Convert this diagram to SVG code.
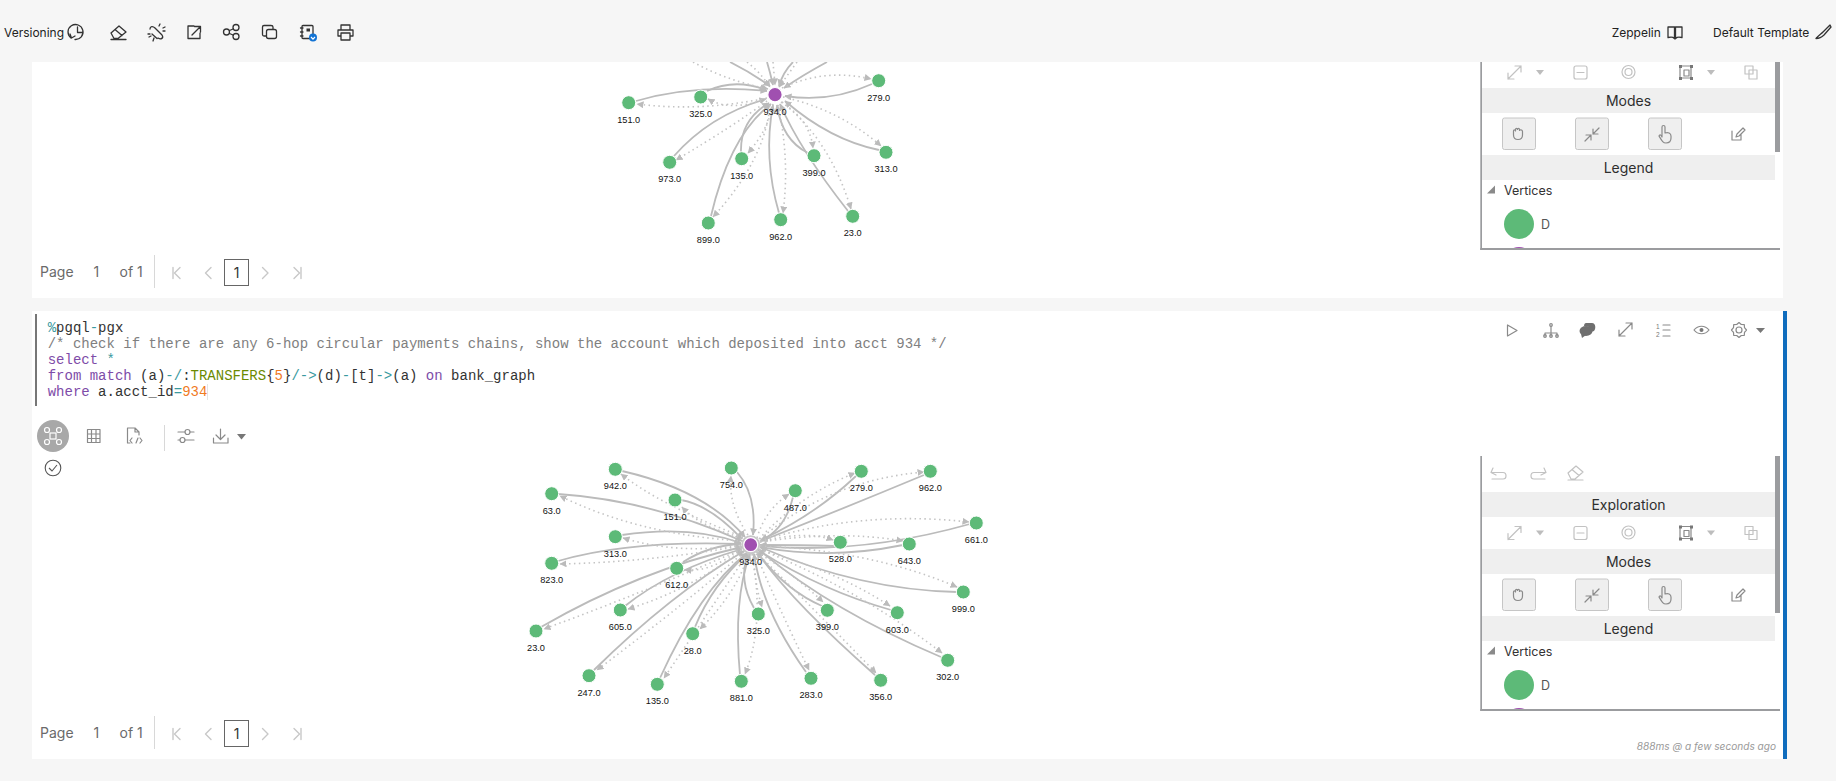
<svg xmlns="http://www.w3.org/2000/svg" width="1836" height="781" viewBox="0 0 1836 781">
<style>
.ui{font-family:Inter,"Liberation Sans",sans-serif}
.tb{font-size:12px;fill:#222}
.pg{font-size:14px;fill:#6a6a6a}
.band{font-size:14px;fill:#2e2e2e;text-anchor:middle}
.lab{font-family:"Liberation Sans",Arial,sans-serif;font-size:9.2px;fill:#111;text-anchor:middle}
.code{font-family:"Liberation Mono","Courier New",monospace;font-size:14px;fill:#333;white-space:pre}
.s{fill:none;stroke:#bbb;stroke-width:1.8;marker-end:url(#ah)}
.d{fill:none;stroke:#c4c4c4;stroke-width:1.6;stroke-dasharray:1.5 3.4;marker-end:url(#ah)}
.v{fill:#5dba78;stroke:#fff;stroke-width:1}
.c{fill:#a050b0;stroke:#fff;stroke-width:1.2}
.i{fill:none;stroke:#333;stroke-width:1.3;stroke-linecap:round;stroke-linejoin:round}
.g{fill:none;stroke:#8a8a8a;stroke-width:1.2;stroke-linecap:round;stroke-linejoin:round}
.l{fill:none;stroke:#c2c2c2;stroke-width:1.2;stroke-linecap:round;stroke-linejoin:round}
.p{fill:none;stroke:#c8c8c8;stroke-width:1.4;stroke-linecap:round;stroke-linejoin:round}
.bar{fill:#9b9c9f}
.bd{fill:#efefef}
.btn{fill:#efefef;stroke:#c6c6c6;stroke-width:1}
</style>
<defs>
<marker id="ah" markerUnits="userSpaceOnUse" markerWidth="9" markerHeight="9" refX="6.5" refY="3.5" orient="auto"><path d="M0 0L7 3.500L0 7Z" fill="#bbb"/></marker>
<clipPath id="topclip"><rect x="32" y="62" width="1440" height="236"/></clipPath>
<clipPath id="leg1"><rect x="1482" y="180" width="293" height="68"/></clipPath>
<clipPath id="leg2"><rect x="1482" y="641" width="293" height="68"/></clipPath>
<g id="explore-icons">
<path class="l" d="M1508 79L1521 66M1515 66H1521V72M1508 73V79H1514"/>
<path d="M1536 70H1544L1540 75Z" fill="#bdbdbd"/>
<rect class="l" x="1574" y="66" width="13" height="13" rx="2"/><path class="l" d="M1577 72.500H1584"/>
<circle class="l" cx="1628.500" cy="72" r="6.500"/><circle class="l" cx="1628.500" cy="72" r="3.500"/>
<rect class="g" x="1680" y="66" width="11" height="12"/><rect class="g" x="1684" y="70" width="5" height="6"/><path d="M1679 65l3 0 0 3-3 0zM1690 65l3 0 0 3-3 0zM1679 77l3 0 0 3-3 0zM1690 77l3 0 0 3-3 0z" fill="#777"/>
<path d="M1707 70H1715L1711 75Z" fill="#bdbdbd"/>
<path class="l" d="M1745 66V74H1753V66H1745M1749 70V79H1757V70H1749"/>
</g>
<g id="mode-buttons">
<rect class="btn" x="1502.500" y="118" width="33" height="31.500" rx="2"/>
<rect class="btn" x="1575.500" y="118" width="33" height="31.500" rx="2"/>
<rect class="btn" x="1648.500" y="118" width="33" height="31.500" rx="2"/>
<path class="g" d="M1513.500 135V131C1513.500 129.500 1515.500 129.500 1515.500 131V129.500C1515.500 128 1517.500 128 1517.500 129.500C1517.500 128 1519.500 128 1519.500 129.500V130.500C1519.500 129.500 1522.500 129.500 1522.500 131.500V135C1522.500 138 1521 139.500 1518 139.500C1515 139.500 1513.500 138 1513.500 135Z"/>
<path class="g" d="M1585 141L1591 135M1586 135H1591V140M1599 128L1593 134M1593 129V134H1598"/>
<path class="g" d="M1662 127C1662 125 1665 125 1665 127V133C1668 132 1671 133 1671 136V138C1671 141 1669 143 1666 143C1663 143 1662 141 1659 136C1660 134 1661 135 1662 137Z"/>
<path class="g" d="M1732 131V140H1741V134M1736 137L1737 134L1743 128L1745 130L1739 136Z"/>
</g>
<g id="pager-icons">
<path class="p" d="M173 267.500V278.500M180 267.500L174.500 273L180 278.500"/>
<path class="p" d="M211 267.500L205.500 273L211 278.500"/>
<path class="p" d="M262.500 267.500L268 273L262.500 278.500"/>
<path class="p" d="M294 267.500L299.500 273L294 278.500M301 267.500V278.500"/>
</g>
</defs>

<rect width="1836" height="781" fill="#f6f6f6"/>
<rect x="32" y="62" width="1751" height="236" fill="#fff"/>
<rect x="32" y="311" width="1751" height="448" fill="#fff"/>
<rect x="1783" y="311" width="4" height="448" fill="#0f6cbd"/>

<g id="connectors-top" clip-path="url(#topclip)">
<path class="s" d="M636 101Q695 84 767 91"/>
<path class="s" d="M707 91Q735 78 766 90"/>
<path class="s" d="M674 156Q710 115 766 99"/>
<path class="s" d="M741 152Q740 120 769 103"/>
<path class="s" d="M711 216Q730 135 771 104"/>
<path class="s" d="M779 213Q763 158 773 105"/>
<path class="s" d="M808 153Q782 140 777 105"/>
<path class="s" d="M848 211Q800 150 780 104"/>
<path class="s" d="M879 150Q830 140 785 101"/>
<path class="s" d="M872 84Q830 103 785 96"/>
<path class="s" d="M730 62Q750 72 770 86"/>
<path class="s" d="M767 62Q770 72 773 85"/>
<path class="s" d="M793 62Q783 72 779 86"/>
<path class="s" d="M827 62Q803 75 784 88"/>
<path class="d" d="M782 88Q825 68 871 79"/>
<path class="d" d="M767 98Q700 112 637 104"/>
<path class="d" d="M766 99Q730 112 708 99"/>
<path class="d" d="M767 101Q735 125 676 160"/>
<path class="d" d="M773 104Q768 130 748 153"/>
<path class="d" d="M770 105Q765 160 713 217"/>
<path class="d" d="M778 105Q790 160 783 213"/>
<path class="d" d="M781 102Q810 120 813 148"/>
<path class="d" d="M782 102Q830 140 851 209"/>
<path class="d" d="M783 97Q840 110 881 146"/>
<path class="d" d="M693 62Q725 80 768 89"/>
<path class="d" d="M747 62Q760 72 770 87"/>
<path class="d" d="M773 62L775 85"/>
<path class="d" d="M797 62L779 87"/>
</g>

<g id="node-t-151"><circle class="v" cx="628.700" cy="102.700" r="7"/><text class="lab" x="628.700" y="123">151.0</text></g>
<g id="node-t-325"><circle class="v" cx="700.700" cy="97" r="7"/><text class="lab" x="700.700" y="117">325.0</text></g>
<g id="node-t-279"><circle class="v" cx="878.700" cy="80.700" r="7"/><text class="lab" x="878.700" y="101">279.0</text></g>
<g id="node-t-973"><circle class="v" cx="669.700" cy="162.300" r="7"/><text class="lab" x="669.700" y="182.300">973.0</text></g>
<g id="node-t-135"><circle class="v" cx="741.700" cy="158.700" r="7"/><text class="lab" x="741.700" y="178.700">135.0</text></g>
<g id="node-t-399"><circle class="v" cx="814" cy="155.700" r="7"/><text class="lab" x="814" y="175.700">399.0</text></g>
<g id="node-t-313"><circle class="v" cx="886" cy="152.300" r="7"/><text class="lab" x="886" y="172.300">313.0</text></g>
<g id="node-t-899"><circle class="v" cx="708.300" cy="223" r="7"/><text class="lab" x="708.300" y="243">899.0</text></g>
<g id="node-t-962"><circle class="v" cx="780.700" cy="219.700" r="7"/><text class="lab" x="780.700" y="239.700">962.0</text></g>
<g id="node-t-23"><circle class="v" cx="852.700" cy="216.300" r="7"/><text class="lab" x="852.700" y="236.300">23.0</text></g>
<g id="node-t-934"><circle class="c" cx="775" cy="94.700" r="7.200"/><text class="lab" x="775" y="114.700">934.0</text></g>

<g id="connectors-bottom">
<path class="s" d="M622 471Q705 490 745 537"/>
<path class="s" d="M737 472Q757 495 753 535"/>
<path class="s" d="M558 494Q650 500 742 541"/>
<path class="s" d="M681 500Q710 505 742 539"/>
<path class="s" d="M622 535Q690 525 741 543"/>
<path class="s" d="M558 561Q630 540 741 544"/>
<path class="s" d="M683 562Q710 545 741 544"/>
<path class="s" d="M541 627Q640 570 742 547"/>
<path class="s" d="M625 606Q670 570 742 549"/>
<path class="s" d="M594 670Q670 595 744 551"/>
<path class="s" d="M660 678Q700 590 747 553"/>
<path class="s" d="M695 627Q712 585 748 553"/>
<path class="s" d="M740 675Q733 600 750 554"/>
<path class="s" d="M754 608Q738 580 748 554"/>
<path class="s" d="M806 672Q762 610 754 554"/>
<path class="s" d="M875 675Q790 600 757 552"/>
<path class="s" d="M822 606Q785 590 757 552"/>
<path class="s" d="M891 610Q820 590 758 550"/>
<path class="s" d="M941 657Q830 610 758 549"/>
<path class="s" d="M957 592Q860 590 760 547"/>
<path class="s" d="M970 524Q860 555 760 546"/>
<path class="s" d="M903 545Q830 560 760 547"/>
<path class="s" d="M834 546Q800 545 760 545"/>
<path class="s" d="M793 497Q785 530 760 541"/>
<path class="s" d="M856 476Q815 515 761 540"/>
<path class="s" d="M924 475Q840 510 761 541"/>
<path class="d" d="M743 537Q660 505 621 474"/>
<path class="d" d="M748 535Q728 505 731 476"/>
<path class="d" d="M743 541Q640 535 560 496"/>
<path class="d" d="M743 538Q700 527 682 507"/>
<path class="d" d="M741 545Q680 555 623 538"/>
<path class="d" d="M741 546Q650 562 560 564"/>
<path class="d" d="M741 547Q715 572 685 570"/>
<path class="d" d="M742 550Q690 590 628 609"/>
<path class="d" d="M742 549Q650 590 544 629"/>
<path class="d" d="M744 552Q690 600 597 670"/>
<path class="d" d="M748 553Q710 610 664 678"/>
<path class="d" d="M749 554Q735 595 700 629"/>
<path class="d" d="M752 554Q765 625 745 674"/>
<path class="d" d="M753 554Q755 585 762 607"/>
<path class="d" d="M756 554Q775 600 809 670"/>
<path class="d" d="M757 553Q815 610 876 673"/>
<path class="d" d="M757 552Q795 575 823 602"/>
<path class="d" d="M759 550Q835 570 890 606"/>
<path class="d" d="M759 549Q860 590 942 653"/>
<path class="d" d="M760 546Q870 550 957 587"/>
<path class="d" d="M760 541Q860 510 969 522"/>
<path class="d" d="M760 542Q840 530 903 541"/>
<path class="d" d="M760 542Q805 530 833 540"/>
<path class="d" d="M760 539Q830 480 924 472"/>
<path class="d" d="M759 539Q800 495 855 473"/>
<path class="d" d="M757 538Q765 510 789 494"/>
</g>

<g id="node-942"><circle class="v" cx="615.300" cy="469.300" r="7"/><text class="lab" x="615.300" y="489.300">942.0</text></g>
<g id="node-754"><circle class="v" cx="731.300" cy="468" r="7"/><text class="lab" x="731.300" y="488">754.0</text></g>
<g id="node-63"><circle class="v" cx="551.700" cy="493.700" r="7"/><text class="lab" x="551.700" y="513.700">63.0</text></g>
<g id="node-151"><circle class="v" cx="675" cy="500" r="7"/><text class="lab" x="675" y="520">151.0</text></g>
<g id="node-313"><circle class="v" cx="615.300" cy="536.700" r="7"/><text class="lab" x="615.300" y="556.700">313.0</text></g>
<g id="node-823"><circle class="v" cx="551.700" cy="563.300" r="7"/><text class="lab" x="551.700" y="583.300">823.0</text></g>
<g id="node-612"><circle class="v" cx="676.700" cy="568.300" r="7"/><text class="lab" x="676.700" y="588.300">612.0</text></g>
<g id="node-487"><circle class="v" cx="795.300" cy="490.700" r="7"/><text class="lab" x="795.300" y="510.700">487.0</text></g>
<g id="node-279"><circle class="v" cx="861.300" cy="471.300" r="7"/><text class="lab" x="861.300" y="491.300">279.0</text></g>
<g id="node-962"><circle class="v" cx="930.300" cy="471.300" r="7"/><text class="lab" x="930.300" y="491.300">962.0</text></g>
<g id="node-661"><circle class="v" cx="976.300" cy="523" r="7"/><text class="lab" x="976.300" y="543">661.0</text></g>
<g id="node-528"><circle class="v" cx="840.300" cy="542.300" r="7"/><text class="lab" x="840.300" y="562.300">528.0</text></g>
<g id="node-643"><circle class="v" cx="909.300" cy="544" r="7"/><text class="lab" x="909.300" y="564">643.0</text></g>
<g id="node-999"><circle class="v" cx="963.300" cy="592" r="7"/><text class="lab" x="963.300" y="612">999.0</text></g>
<g id="node-605"><circle class="v" cx="620.300" cy="610" r="7"/><text class="lab" x="620.300" y="630">605.0</text></g>
<g id="node-23"><circle class="v" cx="536" cy="631" r="7"/><text class="lab" x="536" y="651">23.0</text></g>
<g id="node-28"><circle class="v" cx="692.700" cy="633.700" r="7"/><text class="lab" x="692.700" y="653.700">28.0</text></g>
<g id="node-325"><circle class="v" cx="758.300" cy="614" r="7"/><text class="lab" x="758.300" y="634">325.0</text></g>
<g id="node-247"><circle class="v" cx="589" cy="675.700" r="7"/><text class="lab" x="589" y="695.700">247.0</text></g>
<g id="node-135"><circle class="v" cx="657.300" cy="684.300" r="7"/><text class="lab" x="657.300" y="704.300">135.0</text></g>
<g id="node-881"><circle class="v" cx="741.300" cy="681.300" r="7"/><text class="lab" x="741.300" y="701.300">881.0</text></g>
<g id="node-399"><circle class="v" cx="827.300" cy="610.300" r="7"/><text class="lab" x="827.300" y="630.300">399.0</text></g>
<g id="node-603"><circle class="v" cx="897.300" cy="612.700" r="7"/><text class="lab" x="897.300" y="632.700">603.0</text></g>
<g id="node-283"><circle class="v" cx="811" cy="678.300" r="7"/><text class="lab" x="811" y="698.300">283.0</text></g>
<g id="node-356"><circle class="v" cx="880.700" cy="680.300" r="7"/><text class="lab" x="880.700" y="700.300">356.0</text></g>
<g id="node-302"><circle class="v" cx="947.700" cy="660.300" r="7"/><text class="lab" x="947.700" y="680.300">302.0</text></g>
<g id="node-934"><circle cx="750.700" cy="544.700" r="9.500" fill="#c8c8c8"/><circle class="c" cx="750.700" cy="544.700" r="7"/><text class="lab" x="750.700" y="564.700">934.0</text></g>

<g id="toolbar" class="ui">
<text class="tb" x="4" y="37">Versioning</text>
<path class="i" d="M71 38A7.500 7.500 0 1 1 75 39.500M70 34L71.500 38L75 36M77.500 27V32.500H82"/>
<path class="i" d="M111 33L119 26L126 32L118 38.500H114ZM115 29.500L122 35.500M111 39.500H126"/>
<path class="i" d="M150 29C150 26 153 26 155 28L162 35C164 38 161 40 158 38M152 34L157 38.500M159 26L160 24M163 28L165 27M165 31H163M149 37L151 36M154 38L153 41M148 34L150 34"/>
<path class="i" d="M194 26H188V38.500H200V33M192 35L200 27M194.500 26.500H200.500V32" stroke-width="1.500"/>
<circle class="i" cx="226.500" cy="32" r="3"/><circle class="i" cx="236" cy="27.500" r="3"/><circle class="i" cx="236" cy="36.500" r="3"/><path class="i" d="M229.500 30.500L233 29M229.500 33.500L233 35"/>
<rect class="i" x="266.500" y="29.500" width="10" height="9" rx="2"/><path class="i" d="M266 36H264C263 36 262.500 35.500 262.500 34.500V27C262.500 26 263 25.500 264 25.500H271C272 25.500 273 26 273 27V29"/>
<rect class="i" x="302" y="25.500" width="11" height="13" rx="1" stroke-width="1.600"/><rect x="306.500" y="28.500" width="3.500" height="3" fill="#333"/><path class="i" d="M300.500 28H303M300.500 32H303M300.500 36H303"/><circle cx="313" cy="37.500" r="4" fill="#1273d4"/><path d="M311 37L313 39.200L315 37" fill="none" stroke="#fff" stroke-width="1.200"/>
<path class="i" d="M341 30V25H350V30M341 36H338V30H353V36H350M341 33H350V40H341Z" stroke-width="1.500"/>
<text class="tb" x="1611.700" y="37">Zeppelin</text>
<path class="i" d="M1668 27H1674.500V38C1673 37 1670 37 1668 37.500ZM1682 27H1675.500V38C1677 37 1680 37 1682 37.500ZM1673 37.500L1675 39L1677 37.500"/>
<text class="tb" x="1713" y="37">Default Template</text>
<path class="i" d="M1830 25L1823 32C1821 34 1819 35 1816 38.500C1819 38.500 1822 37 1824 35L1831 27Z"/>
</g>

<g id="pager-top" class="ui">
<text class="pg" x="40" y="277">Page</text><text class="pg" x="93.500" y="277">1</text><text class="pg" x="119.500" y="277">of 1</text>
<rect x="154" y="255" width="1" height="33" fill="#d8d8d8"/>
<use href="#pager-icons"/>
<rect x="224.500" y="259.500" width="24" height="26" fill="#fff" stroke="#666" stroke-width="1"/>
<text x="236.500" y="278" font-size="14px" fill="#333" text-anchor="middle">1</text>
</g>

<g id="pager-bottom" class="ui">
<text class="pg" x="40" y="738">Page</text><text class="pg" x="93.500" y="738">1</text><text class="pg" x="119.500" y="738">of 1</text>
<rect x="154" y="716" width="1" height="33" fill="#d8d8d8"/>
<use href="#pager-icons" y="461"/>
<rect x="224.500" y="720.500" width="24" height="26" fill="#fff" stroke="#666" stroke-width="1"/>
<text x="236.500" y="739" font-size="14px" fill="#333" text-anchor="middle">1</text>
</g>

<g id="panel-top" class="ui">
<rect class="bar" x="1480.300" y="62" width="1.700" height="188"/>
<rect class="bar" x="1480.300" y="248" width="299.700" height="2"/>
<rect class="bar" x="1775" y="62" width="5" height="90"/>
<use href="#explore-icons"/>
<rect class="bd" x="1482" y="88" width="293" height="25"/><text class="band" x="1628.500" y="106">Modes</text>
<use href="#mode-buttons"/>
<rect class="bd" x="1482" y="155" width="293" height="25"/><text class="band" x="1628.500" y="173">Legend</text>
<path d="M1487 193.500L1495 185.500V193.500Z" fill="#8a8a8a"/>
<text x="1504" y="195" font-size="12.500px" fill="#333">Vertices</text>
<circle cx="1519" cy="224" r="15" fill="#5dba78"/>
<text x="1541" y="229" font-size="12.500px" fill="#555">D</text>
<circle cx="1519" cy="262" r="15" fill="#a050b0" clip-path="url(#leg1)"/>
</g>

<g id="panel-bottom" class="ui">
<rect class="bar" x="1480.300" y="456" width="1.700" height="255"/>
<rect class="bar" x="1480.300" y="709" width="299.700" height="2"/>
<rect class="bar" x="1775" y="456" width="5" height="157"/>
<path class="l" d="M1493 468L1491 472.500L1496 475M1491.500 472.500H1503C1507 472.500 1507 479 1503 479H1492"/>
<path class="l" d="M1544 468L1546 472.500L1541 475M1545.500 472.500H1534C1530 472.500 1530 479 1534 479H1545"/>
<path class="l" d="M1568 473L1576 466L1583 472L1575 479H1571ZM1572 469.500L1579 475.500M1568 480H1583"/>
<rect class="bd" x="1482" y="492" width="293" height="25"/><text class="band" x="1628.500" y="510">Exploration</text>
<use href="#explore-icons" y="460.500"/>
<rect class="bd" x="1482" y="549" width="293" height="25"/><text class="band" x="1628.500" y="567">Modes</text>
<use href="#mode-buttons" y="461"/>
<rect class="bd" x="1482" y="616" width="293" height="25"/><text class="band" x="1628.500" y="634">Legend</text>
<path d="M1487 654.500L1495 646.500V654.500Z" fill="#8a8a8a"/>
<text x="1504" y="656" font-size="12.500px" fill="#333">Vertices</text>
<circle cx="1519" cy="685" r="15" fill="#5dba78"/>
<text x="1541" y="690" font-size="12.500px" fill="#555">D</text>
<circle cx="1519" cy="723" r="15" fill="#a050b0" clip-path="url(#leg2)"/>
<text x="1776" y="750" font-size="10.100px" font-style="italic" fill="#999" text-anchor="end">888ms @ a few seconds ago</text>
</g>

<g id="cell-actions">
<path class="g" d="M1507.500 325V336L1517 330.500Z"/>
<path class="g" d="M1551 326V333M1545 336V333H1557V336M1551 333V336"/><circle class="g" cx="1551" cy="325" r="1.300"/><circle class="g" cx="1545" cy="336" r="1.300"/><circle class="g" cx="1551" cy="336" r="1.300"/><circle class="g" cx="1557" cy="336" r="1.300"/>
<path d="M1586 323H1592C1596 323 1596 329 1594 331L1591 332C1591 328 1589 326 1584 326C1584 324 1585 323 1586 323Z" fill="#6f6f6f"/><ellipse cx="1586" cy="331" rx="6.500" ry="5" fill="#6f6f6f"/><path d="M1581 334L1582 338L1586 335Z" fill="#6f6f6f"/>
<path class="g" d="M1619 336L1632 323M1626 323H1632V329M1619 330V336H1625"/>
<path class="g" d="M1663 325H1670M1663 330H1670M1663 336H1670"/>
<text x="1656" y="329" font-size="6.500" fill="#777" font-family="Liberation Sans,sans-serif">1</text><text x="1656" y="337" font-size="6.500" fill="#777" font-family="Liberation Sans,sans-serif">2</text>
<path class="g" d="M1694 330C1698 325 1705 325 1709 330C1705 335 1698 335 1694 330Z"/><circle cx="1701.500" cy="330" r="2" fill="#777"/>
<circle class="g" cx="1739" cy="330" r="3"/>
<path class="g" d="M1746.500 330L1744.500 332.300L1744.300 335.300L1741.300 335.500L1739 337.500L1736.700 335.500L1733.700 335.300L1733.500 332.300L1731.500 330L1733.500 327.700L1733.700 324.700L1736.700 324.500L1739 322.500L1741.300 324.500L1744.300 324.700L1744.500 327.700Z"/>
<path d="M1756 328H1765L1760.500 333Z" fill="#777"/>
</g>

<g id="code">
<rect x="35" y="314" width="2" height="92" fill="#777"/>
<rect x="207" y="384" width="1" height="16" fill="#e4e4e4"/>
<text class="code" x="47.700" y="332.300"><tspan fill="#3a9aa0">%</tspan>pgql<tspan fill="#3a9aa0">-</tspan>pgx</text>
<text class="code" x="47.700" y="348.300" style="fill:#808080">/* check if there are any 6-hop circular payments chains, show the account which deposited into acct 934 */</text>
<text class="code" x="47.700" y="364.300"><tspan fill="#7e4ca8">select</tspan> <tspan fill="#3a9aa0">*</tspan></text>
<text class="code" x="47.700" y="380.300"><tspan fill="#7e4ca8">from match</tspan> (a)<tspan fill="#3a9aa0">-/</tspan>:<tspan fill="#6b8a00">TRANSFERS</tspan>{<tspan fill="#f07b1f">5</tspan>}<tspan fill="#3a9aa0">/-&gt;</tspan>(d)<tspan fill="#3a9aa0">-</tspan>[t]<tspan fill="#3a9aa0">-&gt;</tspan>(a) <tspan fill="#7e4ca8">on</tspan> bank_graph</text>
<text class="code" x="47.700" y="396.300"><tspan fill="#7e4ca8">where</tspan> a.acct_id<tspan fill="#3a9aa0">=</tspan><tspan fill="#f07b1f">934</tspan></text>
</g>

<g id="result-tools">
<circle cx="53" cy="436" r="16" fill="#a8a8a8"/>
<g fill="none" stroke="#fff" stroke-width="1.200"><rect x="50" y="433" width="6" height="6"/><circle cx="47" cy="430" r="2.500"/><circle cx="59" cy="430" r="2.500"/><circle cx="47" cy="442" r="2.500"/><circle cx="59" cy="442" r="2.500"/></g>
<path class="g" d="M87.500 429.500H100V442.500H87.500ZM91.500 429.500V442.500M96 429.500V442.500M87.500 434H100M87.500 438.500H100"/>
<path class="g" d="M127.500 443V428H135L139 432V435M135 428V432H139M130 443H127.500M132 438L130 440.500L132 443M136 443L138 438M140 438L142 440.500L140 443"/>
<rect x="164" y="425" width="1" height="26" fill="#d8d8d8"/>
<path class="g" d="M178 432H185M190 432H194M178 440H180M185 440H194"/><circle class="g" cx="187.500" cy="432" r="2.500"/><circle class="g" cx="182.500" cy="440" r="2.500"/>
<path class="g" d="M213.500 438V443H228V438M220.500 429V439M216 435L220.500 439.500L225 435"/>
<path d="M237 434H246L241.500 439.500Z" fill="#777"/>
<circle cx="53" cy="468" r="7.800" fill="none" stroke="#555" stroke-width="1.100"/><path d="M49 468L52 471L57 465" fill="none" stroke="#555" stroke-width="1.100"/>
</g>
</svg>
